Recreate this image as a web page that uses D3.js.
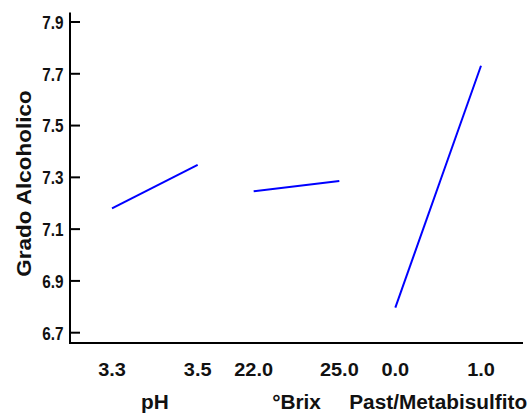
<!DOCTYPE html>
<html lang="es">
<head>
<meta charset="UTF-8">
<title>Efectos principales</title>
<style>
  body { margin: 0; background: #fff; }
  svg text { font-family: "Liberation Sans", Arial, sans-serif; font-weight: bold; fill: #111; }
</style>
</head>
<body>
<svg id="chart"></svg>
<script src="https://cdnjs.cloudflare.com/ajax/libs/d3/7.8.5/d3.min.js"></script>
<script>
// factores y niveles (efectos principales)
const factors = ['pH', '°Brix', 'Past/Metabisulfito'];
const levels = [['3.3', '3.5'], ['22.0', '25.0'], ['0.0', '1.0']];
const means = [[7.180, 7.348], [7.246, 7.286], [6.797, 7.731]];
const yTicks = [6.7, 6.9, 7.1, 7.3, 7.5, 7.7, 7.9];

const W = 530, H = 414;
const axisX = 70, axisY = 343;

const svg = d3.select('#chart').attr('width', W).attr('height', H);

const y = d3.scaleLinear().domain([6.7, 7.9]).range([332.7, 22]);

const band = d3.scaleBand().domain(factors).range([84, 509]).padding(0);
const inset = 28;

// y axis
svg.append('line')
  .attr('x1', axisX).attr('x2', axisX)
  .attr('y1', 12.5).attr('y2', axisY + 1)
  .attr('stroke', '#000').attr('stroke-width', 2);

const yt = svg.append('g').selectAll('g').data(yTicks).join('g')
  .attr('transform', d => `translate(${axisX},${y(d)})`);
yt.append('line').attr('x1', 0).attr('x2', 10)
  .attr('stroke', '#000').attr('stroke-width', 2);
yt.append('text')
  .attr('transform', 'translate(-6.5,0) scale(0.85,1)')
  .attr('dy', '0.38em')
  .attr('text-anchor', 'end').style('font-size', '18px')
  .text(d => d3.format('.1f')(d));

// x axis
svg.append('line')
  .attr('x1', axisX - 1).attr('x2', 523)
  .attr('y1', axisY).attr('y2', axisY)
  .attr('stroke', '#000').attr('stroke-width', 2);

factors.forEach((f, i) => {
  const x = d3.scalePoint().domain(levels[i])
    .range([band(f) + inset, band(f) + band.bandwidth() - inset]);

  svg.append('g').selectAll('text').data(levels[i]).join('text')
    .attr('transform', d => `translate(${x(d)},375.5) scale(1.05,1)`)
    .attr('text-anchor', 'middle').style('font-size', '19px')
    .text(d => d);

  svg.append('text')
    .attr('transform', `translate(${band(f) + band.bandwidth() / 2},408.5) scale(1.04,1)`)
    .attr('text-anchor', 'middle').style('font-size', '20px')
    .text(f);

  const pts = levels[i].map((l, j) => [x(l), y(means[i][j])]);
  svg.append('path')
    .attr('d', d3.line()(pts))
    .attr('fill', 'none').attr('stroke', '#0000ff').attr('stroke-width', 2);
});

// y title
svg.append('text')
  .attr('transform', 'translate(30.5,183.5) rotate(-90) scale(1.07,1)')
  .attr('text-anchor', 'middle').style('font-size', '21px')
  .text('Grado Alcoholico');
</script>
</body>
</html>
